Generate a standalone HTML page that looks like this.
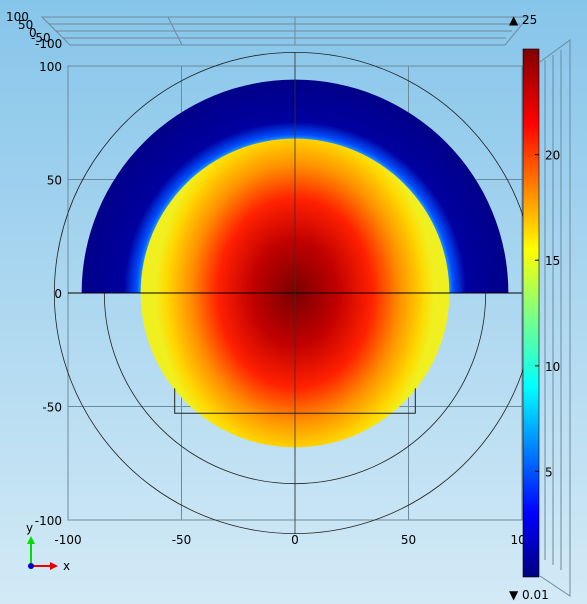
<!DOCTYPE html>
<html><head><meta charset="utf-8"><style>
body{margin:0;width:587px;height:604px;overflow:hidden;font-family:"Liberation Sans","DejaVu Sans",sans-serif}
svg{display:block}
text{font-family:"DejaVu Sans","Liberation Sans",sans-serif;font-size:12px;fill:#000}
</style></head><body>
<svg id="c" width="587" height="604">
<defs>
<linearGradient id="bg" x1="0" y1="0" x2="0" y2="1"><stop offset="0" stop-color="#86c5ea"/><stop offset="1" stop-color="#d3eaf6"/></linearGradient>
<linearGradient id="cb" x1="0" y1="1" x2="0" y2="0">
<stop offset="0" stop-color="#00007f"/><stop offset="0.12" stop-color="#0000ff"/><stop offset="0.36" stop-color="#00ffff"/><stop offset="0.5" stop-color="#80ff80"/><stop offset="0.62" stop-color="#ffff00"/><stop offset="0.86" stop-color="#ff0000"/><stop offset="1" stop-color="#7f0000"/></linearGradient>
<radialGradient id="hot" cx="295" cy="293" r="155" gradientUnits="userSpaceOnUse" gradientTransform="translate(295 293) scale(0.9 1.1) translate(-295 -293)">
<stop offset="0" stop-color="#7a0000"/><stop offset="0.3" stop-color="#c00000"/><stop offset="0.55" stop-color="#ff2000"/><stop offset="0.75" stop-color="#ff9000"/><stop offset="0.92" stop-color="#ffd800"/><stop offset="1" stop-color="#f0f020"/></radialGradient>
<radialGradient id="ring" cx="295" cy="293" r="214" gradientUnits="userSpaceOnUse">
<stop offset="0.7" stop-color="#40e0ff"/><stop offset="0.74" stop-color="#0050ff"/><stop offset="0.8" stop-color="#0000a0"/><stop offset="1" stop-color="#000088"/></radialGradient>
</defs>
<rect width="587" height="604" fill="url(#bg)"/>
<g id="frame" stroke="#6f8a9c" fill="none" stroke-width="1">
<path d="M42 17 L180 17 L180 17 M42 17 L70 45 L505 45 L528 17 Z M49 24 L520 24 M56 31 L512 31 M63 38 L506 38 M168 17 L182 45 M295 17 L295 45"/>
<path d="M545 60 L545 560 M553 55 L553 565 M561 50 L561 570 M540 62 L570 40 L570 596 L540 576"/>
</g>
<g id="grid" stroke="#6f8a9c" stroke-width="1" fill="none"></g>
<g id="field"></g>
<g id="axes"></g>
<g id="colorbar"></g>
<g>
<line x1="31" y1="566" x2="31" y2="542" stroke="#00dd00" stroke-width="2"/><path d="M27 544 L31 536 L35 544Z" fill="#00dd00"/>
<line x1="31" y1="566" x2="52" y2="566" stroke="#ee0000" stroke-width="2"/><path d="M50 562 L58 566 L50 570Z" fill="#ee0000"/>
<circle cx="31" cy="566" r="3" fill="#0000cc"/>
<text x="26" y="532">y</text>
<text x="63" y="570">x</text>
</g>
<g font-size="12">
<text x="6" y="21">100</text><text x="18" y="29">50</text><text x="29" y="37">0</text><text x="31" y="42">-50</text><text x="35" y="48">-100</text>
</g>
</svg>
<script>
const xTicks=[-100,-50,0,50,100];
const yTicks=[-100,-50,0,50,100];
const cbTicks=[5,10,15,20];
const cbMin=0.01, cbMax=25;
const outerR=94, hotR=68, circleR=[106,84];
const ns="http://www.w3.org/2000/svg";
const X=v=>295+v*2.27, Y=v=>293-v*2.27, S=v=>v*2.27;
function mk(p,t,a){const e=document.createElementNS(ns,t);for(const k in a)e.setAttribute(k,a[k]);p.appendChild(e);return e;}
const grid=document.getElementById('grid'),field=document.getElementById('field'),axes=document.getElementById('axes'),cb=document.getElementById('colorbar');
let r=mk(grid,'rect',{x:X(-100),y:Y(100),width:S(200),height:S(200)});


xTicks.forEach(v=>{let l=mk(grid,'line',{x1:X(v),x2:X(v),y1:Y(100),y2:Y(-100)});

});
yTicks.forEach(v=>{let l=mk(grid,'line',{y1:Y(v),y2:Y(v),x1:X(-100),x2:X(100)});

});
// upper blue semi-annulus
let ring=mk(field,'path',{d:`M${X(-outerR)} ${Y(0)} A${S(outerR)} ${S(outerR)} 0 0 1 ${X(outerR)} ${Y(0)} Z`,fill:'url(#ring)'});


let hot=mk(field,'circle',{cx:X(0),cy:Y(0),r:S(hotR),fill:'url(#hot)'});


// thin lines
circleR.forEach((cr,i)=>{let c=mk(axes,'path',{d:i==0?`M${X(-cr*0.96)} ${Y(-cr*0.28)} A${S(cr)} ${S(cr)} 0 1 1 ${X(cr*0.96)} ${Y(-cr*0.28)} M${X(-cr*0.96)} ${Y(-cr*0.28)} A${S(cr)} ${S(cr)} 0 0 0 ${X(cr*0.96)} ${Y(-cr*0.28)}`:`M${X(-cr)} ${Y(0)} A${S(cr)} ${S(cr)} 0 0 0 ${X(cr)} ${Y(0)}`,fill:'none',stroke:'#222',"stroke-width":0.8});

});
mk(axes,'line',{x1:X(-100),x2:X(100),y1:Y(0),y2:Y(0),stroke:'#000',"stroke-width":1});
mk(axes,'line',{x1:X(0),x2:X(0),y1:Y(106),y2:Y(-106),stroke:'#333',"stroke-width":0.8});
mk(axes,'path',{d:`M${X(-53)} ${Y(-42)} L${X(-53)} ${Y(-53)} L${X(53)} ${Y(-53)} L${X(53)} ${Y(-42)}`,fill:'none',stroke:'#222',"stroke-width":1});
xTicks.forEach(v=>{let t=mk(axes,'text',{x:X(v),y:Y(-100)+24,"text-anchor":"middle"});t.textContent=v;

});
yTicks.forEach(v=>{let t=mk(axes,'text',{x:X(-100)-6,y:Y(v)+5,"text-anchor":"end"});t.textContent=v;

});
// colorbar
const cy0=49,cy1=577,CY=v=>cy1-(v-0)/(cbMax-0)*(cy1-cy0);
let bar=mk(cb,'rect',{x:523,y:cy0,width:16,height:cy1-cy0,fill:'url(#cb)',stroke:'#000',"stroke-width":0.6});


cbTicks.forEach(v=>{mk(cb,'line',{x1:535,x2:539,y1:CY(v),y2:CY(v),stroke:'#000'});
let t=mk(cb,'text',{x:545,y:CY(v)+5});t.textContent=v;

});
let mx=mk(cb,'text',{x:509,y:24});mx.textContent='▲ '+cbMax;


let mn=mk(cb,'text',{x:509,y:599});mn.textContent='▼ '+cbMin;


</script>
</body></html>
